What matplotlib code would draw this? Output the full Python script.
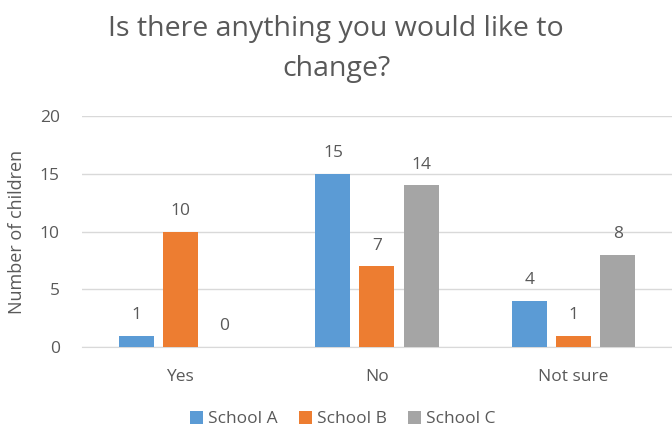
import numpy as np
import matplotlib
matplotlib.use("Agg")
import matplotlib.pyplot as plt

categories = ["Yes", "No", "Not sure"]
series_names = ["School A", "School B", "School C"]
school_a = [1, 15, 4]
school_b = [10, 7, 1]
school_c = [0, 14, 8]
y_ticks = [0, 5, 10, 15, 20]

colors = ["#5B9BD5", "#ED7D31", "#A5A5A5"]
text_color = "#595959"

plt.rcParams['font.family'] = ['Open Sans', 'DejaVu Sans']

fig = plt.figure(figsize=(6.72, 4.28), dpi=100)
ax = fig.add_axes([0.122, 0.189, 0.878, 0.540])

x = np.arange(len(categories))
width = 0.178
offset = 0.224
for i, (vals, name) in enumerate(zip([school_a, school_b, school_c], series_names)):
    pos = x + (i - 1) * offset
    bars = ax.bar(pos, vals, width, color=colors[i], label=name, zorder=3)
    for xp, v in zip(pos, vals):
        ax.text(xp, v + 1.1, str(v), ha='center', va='bottom', fontsize=12.5, color=text_color)

ax.set_xlim(-0.5, 2.5)
ax.set_ylim(0, 20)
ax.set_yticks(y_ticks)
ax.set_xticks(x)
ax.set_xticklabels(categories)
ax.grid(axis='y', color='#D9D9D9', linewidth=1, zorder=0)
ax.tick_params(axis='both', length=0, colors=text_color, labelsize=12.5)
ax.tick_params(axis='x', pad=16)
ax.tick_params(axis='y', pad=16)
for s in ['top', 'right', 'left']:
    ax.spines[s].set_visible(False)
ax.spines['bottom'].set_color('#D9D9D9')
ax.set_ylabel("Number of children", fontsize=13, color=text_color, labelpad=10)

fig.suptitle("Is there anything you would like to\nchange?", fontsize=20.5, color=text_color,
             y=0.965, linespacing=1.55)

fig.legend(loc='lower center', ncol=3, frameon=False, fontsize=12.5, labelcolor=text_color,
           bbox_to_anchor=(0.51, -0.035), handlelength=0.75, handleheight=0.75,
           handletextpad=0.3, columnspacing=1.2)

fig.savefig("out.png", dpi=100)
